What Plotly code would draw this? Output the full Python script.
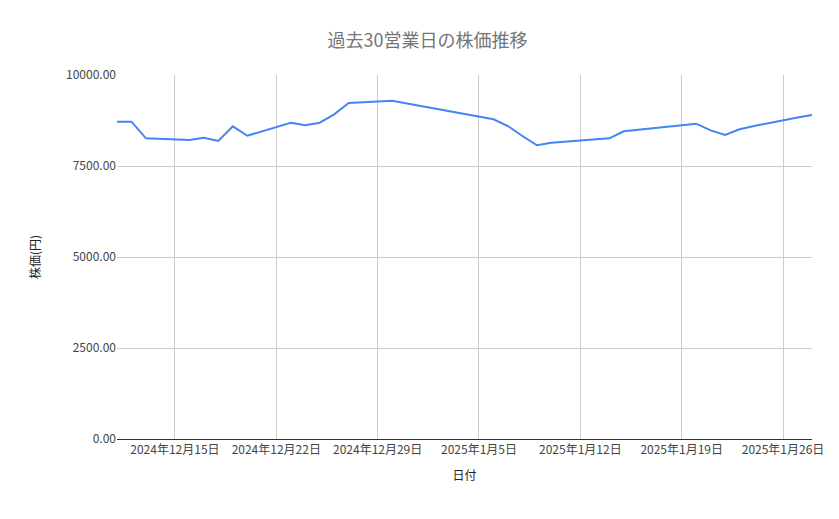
import plotly.graph_objects as go

dates = ["2024-12-11", "2024-12-12", "2024-12-13", "2024-12-16", "2024-12-17", "2024-12-18",
         "2024-12-19", "2024-12-20", "2024-12-23", "2024-12-24", "2024-12-25", "2024-12-26",
         "2024-12-27", "2024-12-30", "2025-01-06", "2025-01-07", "2025-01-08", "2025-01-09",
         "2025-01-10", "2025-01-14", "2025-01-15", "2025-01-16", "2025-01-17", "2025-01-20",
         "2025-01-21", "2025-01-22", "2025-01-23", "2025-01-24", "2025-01-27", "2025-01-28"]
prices = [8717, 8717, 8261, 8214, 8278, 8187, 8590, 8332, 8690, 8618, 8690, 8920,
          9231, 9294, 8783, 8599, 8324, 8068, 8140, 8261, 8453, 8497, 8525, 8662,
          8480, 8352, 8508, 8600, 8830, 8901]
tick_dates = ["2024-12-15", "2024-12-22", "2024-12-29", "2025-01-05", "2025-01-12", "2025-01-19", "2025-01-26"]
tick_text = ["2024年12月15日", "2024年12月22日", "2024年12月29日", "2025年1月5日",
             "2025年1月12日", "2025年1月19日", "2025年1月26日"]

fig = go.Figure(go.Scatter(x=dates, y=prices, mode="lines",
                           line=dict(color="#4285f4", width=2)))
fig.update_layout(
    width=839, height=519,
    margin=dict(l=109, r=35, t=67, b=88),
    paper_bgcolor="white", plot_bgcolor="white",
    font=dict(family="Noto Sans CJK JP, Roboto", size=12, color="#444"),
    title=dict(text="過去30営業日の株価推移", x=0.5, xanchor="center", y=0.95,
               font=dict(size=18, color="#757575")),
    showlegend=False,
)
fig.update_xaxes(range=["2024-12-11", "2025-01-28"], tickvals=tick_dates, ticktext=tick_text,
                 showgrid=True, gridcolor="#cccccc", showline=True, linecolor="#333",
                 title=dict(text="日付", font=dict(size=12, color="#222")),
                 tickfont=dict(color="#444"), automargin=False)
fig.update_yaxes(range=[0, 10000], tickvals=[0, 2500, 5000, 7500, 10000], tickformat=".2f",
                 showgrid=True, gridcolor="#cccccc", zeroline=False,
                 title=dict(text="株価(円)", font=dict(size=12, color="#222"), standoff=22),
                 tickfont=dict(color="#444"), automargin=False)
fig.write_html("out.html")
